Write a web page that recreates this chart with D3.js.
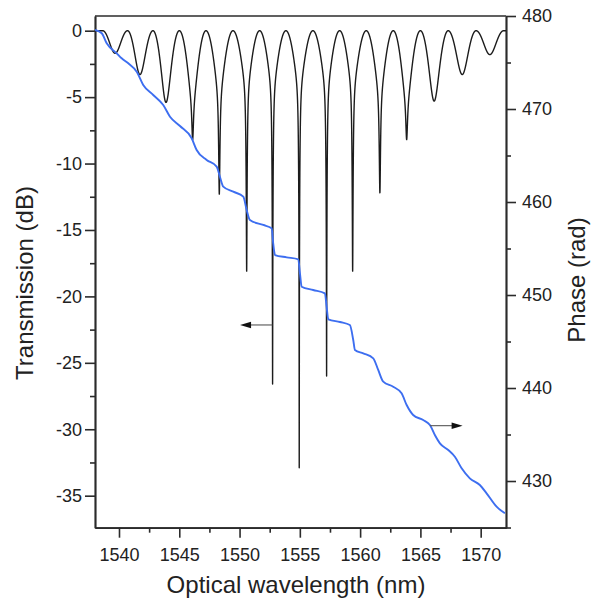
<!DOCTYPE html>
<html>
<head>
<meta charset="utf-8">
<script src="https://cdn.jsdelivr.net/npm/d3@7"></script>
<style>
  html, body { margin: 0; padding: 0; background: #fff; }
  svg { display: block; font-family: "Liberation Sans", Arial, Helvetica, sans-serif; }
</style>
</head>
<body>
<svg id="chart" width="596" height="598"></svg>
<script>
// ---------- data ----------
const xTicks = [1540, 1545, 1550, 1555, 1560, 1565, 1570];
const dbTicks = [0, -5, -10, -15, -20, -25, -30, -35];
const phaseTicks = [430, 440, 450, 460, 470, 480];

// resonance dips of the transmission curve: wavelength (nm) and depth (dB)
const dipWavelength = [1539.68, 1541.74, 1543.90, 1546.11, 1548.32, 1550.59, 1552.74, 1554.95,
                       1557.22, 1559.38, 1561.64, 1563.86, 1566.14, 1568.47, 1570.76];
const dipDepth = [-1.7, -3.3, -5.4, -8.2, -12.3, -18.1, -26.6, -32.9,
                  -26.0, -18.1, -12.2, -8.2, -5.3, -3.3, -1.8];

// phase response (blue curve): wavelength (nm) and phase (rad)
const phaseWl = [1538.01,1538.57,1538.98,1539.81,1540.22,1540.77,1541.47,1542.01,1542.84,1543.67,
  1544.23,1545.06,1546.03,1546.44,1547.27,1548.10,1548.37,1548.65,1549.48,1550.31,1550.59,1550.86,
  1551.97,1552.66,1552.79,1552.94,1553.91,1554.87,1555.01,1555.15,1556.11,1557.08,1557.22,1557.36,
  1558.33,1559.15,1559.43,1559.57,1560.26,1561.09,1561.50,1561.92,1562.74,1563.44,1563.86,1564.40,
  1565.23,1565.79,1566.20,1566.62,1567.31,1567.86,1568.42,1569.10,1569.93,1570.49,1571.32,1572.01];
const phaseRad = [478.49,478.14,477.06,475.99,475.45,474.91,474.01,472.58,471.51,470.43,
  469.17,468.17,466.85,465.59,464.52,463.80,462.72,461.65,461.11,460.57,459.14,458.06,
  457.53,457.17,455.56,454.30,454.05,453.84,452.33,450.89,450.54,450.18,448.74,447.39,
  447.10,446.77,445.16,444.09,443.73,443.19,441.94,440.68,440.14,439.43,438.17,437.10,
  436.56,436.02,434.95,434.05,433.33,432.61,431.37,430.29,429.57,428.68,427.24,426.53];

// ---------- layout ----------
const L = 95, R = 506, T = 16, B = 527.7;
const svg = d3.select("#chart");

const x = d3.scaleLinear().domain([1538.01, 1572.10]).range([L, R]);
const yT = d3.scaleLinear().domain([-37.41, 1.106]).range([B, T]);
const yP = d3.scaleLinear().domain([424.98, 480]).range([B, T]);

// ---------- resonance line shape built from the dip table ----------
function transmissionDb(l) {
  const n = dipWavelength.length;
  let i = 0, best = Infinity;
  for (let k = 0; k < n; k++) {
    const d = Math.abs(l - dipWavelength[k]);
    if (d < best) { best = d; i = k; }
  }
  let P;
  if (l < dipWavelength[i]) P = i > 0 ? dipWavelength[i] - dipWavelength[i - 1] : dipWavelength[1] - dipWavelength[0];
  else P = i < n - 1 ? dipWavelength[i + 1] - dipWavelength[i] : dipWavelength[n - 1] - dipWavelength[n - 2];
  const delta = Math.PI * (l - dipWavelength[i]) / P;
  if (Math.abs(delta) >= Math.PI / 2) return 0;
  const D = -dipDepth[i];
  const Bd = D <= 5.5 ? D : Math.max(3.6, 5.5 - (D - 5.5) * 0.2);
  const b = 1 - Math.pow(10, -Bd / 10);
  const a = 1 - Math.pow(10, -(D - Bd) / 10);
  const w = 0.15;
  const broad = 1 - b * Math.cos(delta) ** 2;
  const lor = s => 1 / (1 + (s / w) ** 2);
  const l0 = lor(1);
  const narrow = 1 - a * (lor(Math.sin(delta)) - l0) / (1 - l0);
  return 10 * Math.log10(Math.max(broad * narrow, 1e-6));
}

const samples = [];
for (let l = 1538.01; l <= 1572.10; l += 0.003) samples.push(l);
dipWavelength.forEach(d => samples.push(d));
samples.sort((p, q) => p - q);
const transData = samples.map(l => [l, transmissionDb(l)]);
const phaseData = phaseWl.map((l, k) => [l, phaseRad[k]]);

// ---------- axes ----------
const axisColor = "#2b2b2b";
const styleAxis = g => {
  g.selectAll(".domain").attr("stroke", axisColor).attr("stroke-width", 1.7);
  g.selectAll(".tick line").attr("stroke", axisColor).attr("stroke-width", 1.6);
  g.selectAll(".tick text").attr("fill", "#222").style("font-size", "18px")
    .style("font-family", '"Liberation Sans", Arial, Helvetica, sans-serif');
};

const minor = (lo, hi, step, majors) => d3.range(lo, hi + 1e-9, step).filter(v => !majors.some(m => Math.abs(m - v) < 1e-6));

// bottom
svg.append("g").attr("transform", `translate(0,${B})`)
  .call(d3.axisBottom(x).tickValues(minor(1537.5, 1572.5, 2.5, xTicks).filter(v => v >= 1538.01 && v <= 1572.1)).tickSize(5).tickSizeOuter(0).tickFormat(""))
  .call(styleAxis);
svg.append("g").attr("transform", `translate(0,${B})`)
  .call(d3.axisBottom(x).tickValues(xTicks).tickSize(10).tickSizeOuter(0).tickPadding(11).tickFormat(d3.format("d")))
  .call(styleAxis);

// left
svg.append("g").attr("transform", `translate(${L},0)`)
  .call(d3.axisLeft(yT).tickValues(minor(-37.5, 0, 2.5, dbTicks).filter(v => v >= -37.41)).tickSize(5).tickSizeOuter(0).tickFormat(""))
  .call(styleAxis);
svg.append("g").attr("transform", `translate(${L},0)`)
  .call(d3.axisLeft(yT).tickValues(dbTicks).tickSize(10).tickSizeOuter(0).tickPadding(3).tickFormat(d => String(d)))
  .call(styleAxis);

// right
svg.append("g").attr("transform", `translate(${R},0)`)
  .call(d3.axisRight(yP).tickValues(minor(425, 480, 5, phaseTicks)).tickSize(5).tickSizeOuter(0).tickFormat(""))
  .call(styleAxis);
svg.append("g").attr("transform", `translate(${R},0)`)
  .call(d3.axisRight(yP).tickValues(phaseTicks).tickSize(10).tickSizeOuter(0).tickPadding(6).tickFormat(d3.format("d")))
  .call(styleAxis);

// top frame line
svg.append("line").attr("x1", L).attr("x2", R).attr("y1", T).attr("y2", T)
  .attr("stroke", axisColor).attr("stroke-width", 1.7);

// ---------- curves ----------
svg.append("clipPath").attr("id", "plotclip").append("rect")
  .attr("x", L).attr("y", T).attr("width", R - L).attr("height", B - T);

svg.append("path").datum(transData)
  .attr("clip-path", "url(#plotclip)")
  .attr("fill", "none").attr("stroke", "#1c1c1c").attr("stroke-width", 1.4)
  .attr("stroke-linejoin", "round")
  .attr("d", d3.line().x(d => x(d[0])).y(d => yT(d[1])));

svg.append("path").datum(phaseData)
  .attr("clip-path", "url(#plotclip)")
  .attr("fill", "none").attr("stroke", "#3d6ef0").attr("stroke-width", 1.9)
  .attr("d", d3.line().curve(d3.curveMonotoneX).x(d => x(d[0])).y(d => yP(d[1])));

// ---------- arrows ----------
function arrow(x1, x2, y) {
  const dir = Math.sign(x2 - x1);
  svg.append("line").attr("x1", x1).attr("x2", x2 - dir * 8).attr("y1", y).attr("y2", y)
    .attr("stroke", "#555").attr("stroke-width", 1.1);
  svg.append("path")
    .attr("d", `M${x2},${y} L${x2 - dir * 11},${y - 3.3} L${x2 - dir * 11},${y + 3.3} Z`)
    .attr("fill", "#111");
}
arrow(x(1552.72), x(1550.04), yT(-22.15));
arrow(x(1565.79), x(1568.50), yP(435.95));

// ---------- axis titles ----------
svg.append("text")
  .attr("transform", `translate(33,283) rotate(-90)`)
  .attr("text-anchor", "middle").attr("fill", "#222").style("font-size", "24px")
  .text("Transmission (dB)");
svg.append("text")
  .attr("transform", `translate(585,280) rotate(-90)`)
  .attr("text-anchor", "middle").attr("fill", "#222").style("font-size", "24px")
  .text("Phase (rad)");
svg.append("text")
  .attr("x", 296).attr("y", 592.5)
  .attr("text-anchor", "middle").attr("fill", "#222").style("font-size", "24px")
  .text("Optical wavelength (nm)");
</script>
</body>
</html>
